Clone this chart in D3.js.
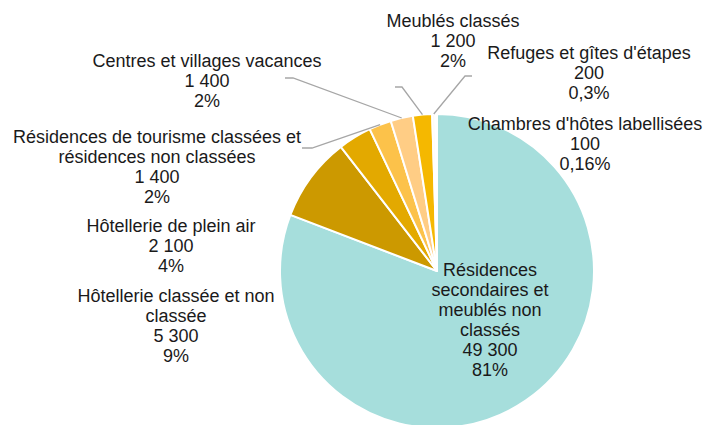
<!DOCTYPE html>
<html>
<head>
<meta charset="utf-8">
<script src="https://cdn.jsdelivr.net/npm/d3@7"></script>
<style>
    body { margin: 0; background: #fff; }
    text { font-family: 'Liberation Sans', Arial, sans-serif; font-size: 18px; fill: #1a1a1a; }
</style>
</head>
<body>
<svg width="719" height="425"></svg>
<script>
const categories = [
    'Résidences secondaires et meublés non classés',
    'Hôtellerie classée et non classée',
    'Hôtellerie de plein air',
    'Résidences de tourisme classées et résidences non classées',
    'Centres et villages vacances',
    'Meublés classés',
    "Refuges et gîtes d'étapes",
    "Chambres d'hôtes labellisées"
];
const values = [49300, 5300, 2100, 1400, 1400, 1200, 200, 100];
const valueLabels = ['49 300', '5 300', '2 100', '1 400', '1 400', '1 200', '200', '100'];
const percentLabels = ['81%', '9%', '4%', '2%', '2%', '2%', '0,3%', '0,16%'];
const colors = ['#a6dedc', '#cc9900', '#e3a900', '#fcc24a', '#ffcd85', '#f5b800', '#fffaf0', '#fffaf0'];

// label text lines (name wrapped as in the original) + placement
const labelLayout = [
    { lines: ['Résidences', 'secondaires et', 'meublés non', 'classés'], x: 490, y: 276, elbow: null },
    { lines: ['Hôtellerie classée et non', 'classée'], x: 176, y: 302, elbow: null },
    { lines: ['Hôtellerie de plein air'], x: 171, y: 232, elbow: null },
    { lines: ['Résidences de tourisme classées et', 'résidences non classées'], x: 157, y: 143, elbow: [[302, 148], [312, 148]] },
    { lines: ['Centres et villages vacances'], x: 207, y: 67, elbow: [[285, 78], [293, 78]] },
    { lines: ['Meublés classés'], x: 453, y: 27, elbow: [[395, 87], [402, 87]] },
    { lines: ["Refuges et gîtes d'étapes"], x: 589, y: 59, elbow: [[472, 76], [465, 76]] },
    { lines: ["Chambres d'hôtes labellisées"], x: 585, y: 130, elbow: null }
];

const svg = d3.select('svg');
const cx = 437;
const cy = 271;
const radius = 157;
const lineHeight = 20;

const data = categories.map((c, i) => ({
    name: c,
    value: values[i],
    color: colors[i],
    valueLabel: valueLabels[i],
    pct: percentLabels[i],
    layout: labelLayout[i]
}));

const pie = d3.pie()
    .value((d) => d.value)
    .sort(null);

const arc = d3.arc()
    .innerRadius(0)
    .outerRadius(radius);

const edgeArc = d3.arc()
    .innerRadius(radius)
    .outerRadius(radius);

const g = svg.append('g')
    .attr('transform', `translate(${cx}, ${cy})`);

const arcs = pie(data);

g.selectAll('path.slice')
    .data(arcs)
    .enter()
    .append('path')
    .attr('class', 'slice')
    .attr('d', arc)
    .attr('fill', (d) => d.data.color)
    .attr('stroke', '#fff')
    .attr('stroke-width', 2)
    .attr('stroke-linejoin', 'round');

// leader lines for the small slices
svg.selectAll('polyline.leader')
    .data(arcs.filter((d) => d.data.layout.elbow))
    .enter()
    .append('polyline')
    .attr('class', 'leader')
    .attr('points', (d) => {
        const c = edgeArc.centroid(d);
        const pts = d.data.layout.elbow.concat([[cx + c[0], cy + c[1]]]);
        return pts.map((p) => p.join(',')).join(' ');
    })
    .attr('fill', 'none')
    .attr('stroke', '#a6a6a6')
    .attr('stroke-width', 1.3);

// labels
const labels = svg.selectAll('text.label')
    .data(data)
    .enter()
    .append('text')
    .attr('class', 'label')
    .attr('text-anchor', 'middle');

labels.each(function (d) {
    const t = d3.select(this);
    const lines = d.layout.lines.concat([d.valueLabel, d.pct]);
    lines.forEach((line, i) => {
        t.append('tspan')
            .attr('x', d.layout.x)
            .attr('y', d.layout.y + i * lineHeight)
            .text(line);
    });
});
</script>
</body>
</html>
